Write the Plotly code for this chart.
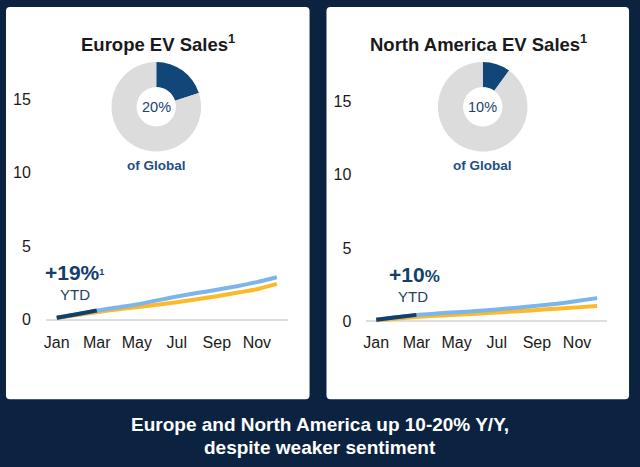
import plotly.graph_objects as go

W, H = 640, 467

months = ["Jan", "Feb", "Mar", "Apr", "May", "Jun", "Jul", "Aug", "Sep", "Oct", "Nov", "Dec"]
month_num = list(range(1, 13))
tick_months = [1, 3, 5, 7, 9, 11]
tick_labels = ["Jan", "Mar", "May", "Jul", "Sep", "Nov"]
y_ticks = [0, 5, 10, 15]

# Europe (cumulative EV sales, millions)
europe_prev = [0.14, 0.38, 0.62, 0.84, 1.04, 1.32, 1.58, 1.82, 2.04, 2.28, 2.56, 2.89]
europe_two_ago = [0.12, 0.32, 0.52, 0.70, 0.86, 1.03, 1.20, 1.40, 1.60, 1.84, 2.08, 2.44]
europe_ytd = [0.14, 0.38, 0.63]
europe_share = [20, 80]

# North America
na_prev = [0.10, 0.27, 0.43, 0.53, 0.62, 0.70, 0.81, 0.93, 1.06, 1.20, 1.38, 1.58]
na_two_ago = [0.07, 0.18, 0.30, 0.38, 0.45, 0.52, 0.60, 0.68, 0.77, 0.86, 0.95, 1.05]
na_ytd = [0.10, 0.27, 0.44]
na_share = [10, 90]

NAVY = "#0b2340"
LIGHT = "#7cb5ec"
YELLOW = "#fdb927"
DARK = "#123f6b"
DONUT_DARK = "#104678"
GRAY = "#dcdcdc"
TXT = "#1a1a1a"
BLUE_TXT = "#1d4270"
FONT = "Liberation Sans, Arial, sans-serif"


def px(x):
    return x / W


def py(y):
    return 1 - y / H


fig = go.Figure()

# line traces
for xa, ya, prev, two, ytd in [("x", "y", europe_prev, europe_two_ago, europe_ytd),
                               ("x2", "y2", na_prev, na_two_ago, na_ytd)]:
    fig.add_trace(go.Scatter(x=month_num, y=two, mode="lines", xaxis=xa, yaxis=ya,
                             line=dict(color=YELLOW, width=4, shape="spline", smoothing=0.6),
                             showlegend=False, hoverinfo="skip"))
    fig.add_trace(go.Scatter(x=month_num, y=prev, mode="lines", xaxis=xa, yaxis=ya,
                             line=dict(color=LIGHT, width=4, shape="spline", smoothing=0.6),
                             showlegend=False, hoverinfo="skip"))
    fig.add_trace(go.Scatter(x=month_num[:len(ytd)], y=ytd, mode="lines", xaxis=xa, yaxis=ya,
                             line=dict(color=DARK, width=4, shape="spline", smoothing=0.6),
                             showlegend=False, hoverinfo="skip"))

# donuts
for cx, share in [(154, europe_share), (482, na_share)]:
    fig.add_trace(go.Pie(values=share, labels=["Region", "Rest"], hole=0.44, sort=False,
                         direction="clockwise", rotation=0,
                         marker=dict(colors=[DONUT_DARK, GRAY]),
                         textinfo="none", hoverinfo="skip", showlegend=False,
                         domain=dict(x=[px(cx - 45), px(cx + 45)], y=[py(152), py(62)])))

axis_common = dict(showgrid=False, showline=False, zeroline=False, ticks="",
                   tickfont=dict(family=FONT, size=16, color=TXT), fixedrange=True)

fig.update_layout(
    width=W, height=H,
    margin=dict(l=0, r=0, t=0, b=0),
    paper_bgcolor=NAVY, plot_bgcolor="rgba(0,0,0,0)",
    font=dict(family=FONT),
    xaxis=dict(domain=[px(43), px(286)], range=[0.453, 12.54], anchor="y",
               tickvals=tick_months, ticktext=tick_labels, ticklabelstandoff=2, **axis_common),
    yaxis=dict(domain=[py(330), py(60)], range=[-0.644, 17.66], anchor="x",
               tickvals=y_ticks, ticklabelstandoff=14,
               **{**axis_common, "zeroline": True}, zerolinecolor="#dedede", zerolinewidth=2),
    xaxis2=dict(domain=[px(365), px(607)], range=[0.504, 12.5], anchor="y2",
                tickvals=tick_months, ticktext=tick_labels, ticklabelstandoff=2, **axis_common),
    yaxis2=dict(domain=[py(330), py(60)], range=[-0.544, 17.82], anchor="x2",
                tickvals=y_ticks, ticklabelstandoff=14,
                **{**axis_common, "zeroline": True}, zerolinecolor="#dedede", zerolinewidth=2),
)


def rounded_rect(x0, y0, x1, y1, r=4):
    X0, X1 = px(x0), px(x1)
    Y0, Y1 = py(y0), py(y1)
    rx, ry = r / W, r / H
    return (f"M {X0+rx} {Y0} L {X1-rx} {Y0} Q {X1} {Y0} {X1} {Y0-ry} "
            f"L {X1} {Y1+ry} Q {X1} {Y1} {X1-rx} {Y1} L {X0+rx} {Y1} "
            f"Q {X0} {Y1} {X0} {Y1+ry} L {X0} {Y0-ry} Q {X0} {Y0} {X0+rx} {Y0} Z")


shapes = []
for x0, x1 in [(3, 308), (325, 629)]:
    shapes.append(dict(type="path", xref="paper", yref="paper", path=rounded_rect(x0, 7, x1, 400),
                       fillcolor="white", line=dict(width=0), layer="below"))
fig.update_layout(shapes=shapes)


def ann(text, x, y, size, color, bold=False, xanchor="center"):
    if bold:
        text = f"<b>{text}</b>"
    fig.add_annotation(text=text, x=px(x), y=py(y), xref="paper", yref="paper",
                       xanchor=xanchor, yanchor="middle", showarrow=False,
                       font=dict(family=FONT, size=size, color=color))


ann("Europe EV Sales<sup>1</sup>", 156, 43, 18.5, TXT, bold=True)
ann("North America EV Sales<sup>1</sup>", 478, 43, 18.5, TXT, bold=True)
ann("20%", 154, 107, 14.5, BLUE_TXT)
ann("10%", 482, 107, 14.5, BLUE_TXT)
ann("of Global", 154, 166, 13.5, "#1f4f7f", bold=True)
ann("of Global", 482, 166, 13.5, "#1f4f7f", bold=True)
ann("+19%<span style='font-size:13px'><sup>1</sup></span>", 40, 273, 21, DARK, bold=True, xanchor="left")
ann("YTD", 72, 295, 15, "#1f3f66")
ann("+10<span style='font-size:17px'>%</span>", 386, 275, 21, DARK, bold=True, xanchor="left")
ann("YTD", 412, 297, 15, "#1f3f66")
ann("Europe and North America up 10-20% Y/Y,", 318, 425, 19, "white", bold=True)
ann("despite weaker sentiment", 318, 448, 19, "white", bold=True)

fig.write_html("out.html", config={"displayModeBar": False},
               post_script="document.body.style.margin='0';document.body.style.background='#0b2340';")
